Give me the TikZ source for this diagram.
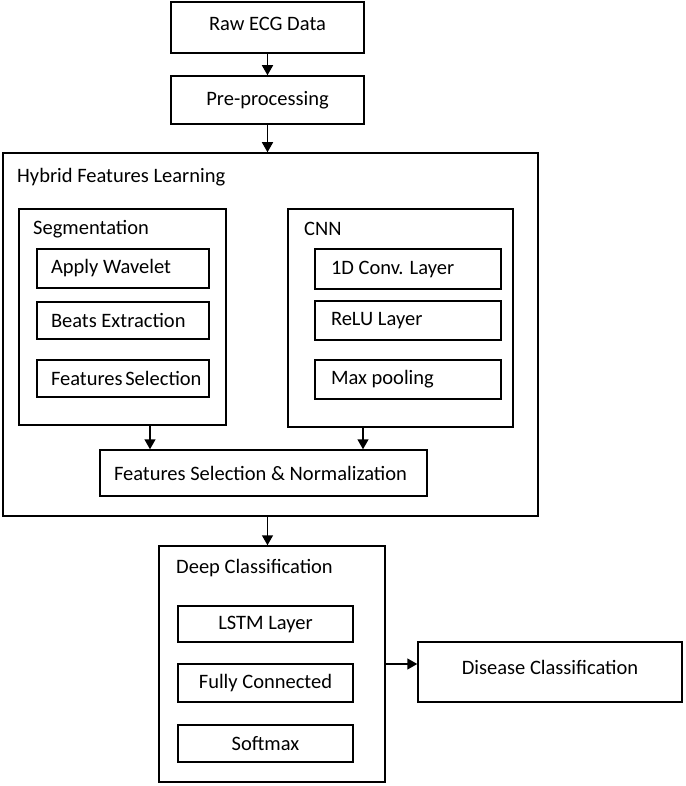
\documentclass[tikz,border=0pt]{standalone}
\usepackage{fontspec}
\setmainfont{Carlito}
\usetikzlibrary{arrows.meta}
\begin{document}
\begin{tikzpicture}[x=1pt,y=-1pt,
  font=\fontsize{20.5}{24}\selectfont,
  box/.style={draw=black,line width=1.5pt,rectangle,inner sep=0pt},
  leftbox/.style={box,align=flush left,inner xsep=#1},
  title/.style={anchor=base west,inner sep=0pt},
  arr/.style={line width=1.5pt,-{Triangle[length=10pt,width=11pt]}}]
\useasboundingbox (0,0) rectangle (685,786);
% top boxes
\node[box,minimum width=193pt,minimum height=51pt,text depth=8pt] (raw) at (267.5,27.5) {Raw ECG Data};
\node[box,minimum width=193pt,minimum height=48pt] (pre) at (267.5,100) {Pre-processing};
% hybrid
\node[box,minimum width=535pt,minimum height=363pt] (hyb) at (270.5,334.5) {};
\node[title] (hybT) at (17,183) {Hybrid Features Learning};
\node[box,minimum width=207pt,minimum height=216pt] (seg) at (122.5,317) {};
\node[title] (segT) at (33,234) {Segmentation};
\node[box,minimum width=225pt,minimum height=218pt] (cnn) at (400.5,318) {};
\node[title] (cnnT) at (304,236) {CNN};
\node[leftbox=14pt,text width=144pt,minimum height=39pt] (aw) at (123,268.5) {\mbox{Apply Wavelet}};
\node[leftbox=14pt,text width=144pt,minimum height=37pt] (be) at (123,320.5) {\mbox{Beats Extraction}};
\node[leftbox=14pt,text width=144pt,minimum height=37pt] (fs) at (123,378.5) {\mbox{Features\hspace{-2pt} Selection}};
\node[leftbox=16pt,text width=154pt,minimum height=40pt] (conv) at (408,269) {\mbox{1D Conv. Layer}};
\node[leftbox=16pt,text width=154pt,minimum height=39pt] (relu) at (408,320.5) {\mbox{ReLU Layer}};
\node[leftbox=16pt,text width=154pt,minimum height=39pt] (mp) at (408,379.5) {\mbox{Max pooling}};
\node[leftbox=14pt,text width=299pt,minimum height=46pt] (fsn) at (263.5,473) {\mbox{Features Selection \& Normalization}};
% deep classification
\node[box,minimum width=226pt,minimum height=236pt] (deep) at (272,664) {};
\node[title] (deepT) at (176,573) {Deep Classification};
\node[box,minimum width=175pt,minimum height=36pt] (lstm) at (265.5,624) {LSTM Layer};
\node[box,minimum width=175pt,minimum height=38pt] (fc) at (265.5,683) {Fully Connected};
\node[box,minimum width=175pt,minimum height=37pt] (sm) at (265.5,743.5) {Softmax};
\node[box,minimum width=264pt,minimum height=60pt,text depth=10pt] (dis) at (550,672) {Disease Classification};
% connectors
\coordinate (ay) at (0,664);
\draw[arr] (raw.south) -- (pre.north);
\draw[arr] (pre.south) -- (pre.south |- hyb.north);
\draw[arr] ([xshift=27.5pt]seg.south) -- ([xshift=27.5pt]seg.south |- fsn.north);
\draw[arr] ([xshift=-37.5pt]cnn.south) -- ([xshift=-37.5pt]cnn.south |- fsn.north);
\draw[arr] (pre.south |- hyb.south) -- (pre.south |- deep.north);
\draw[arr] (deep.east |- ay) -- (dis.west |- ay);
\end{tikzpicture}
\end{document}
